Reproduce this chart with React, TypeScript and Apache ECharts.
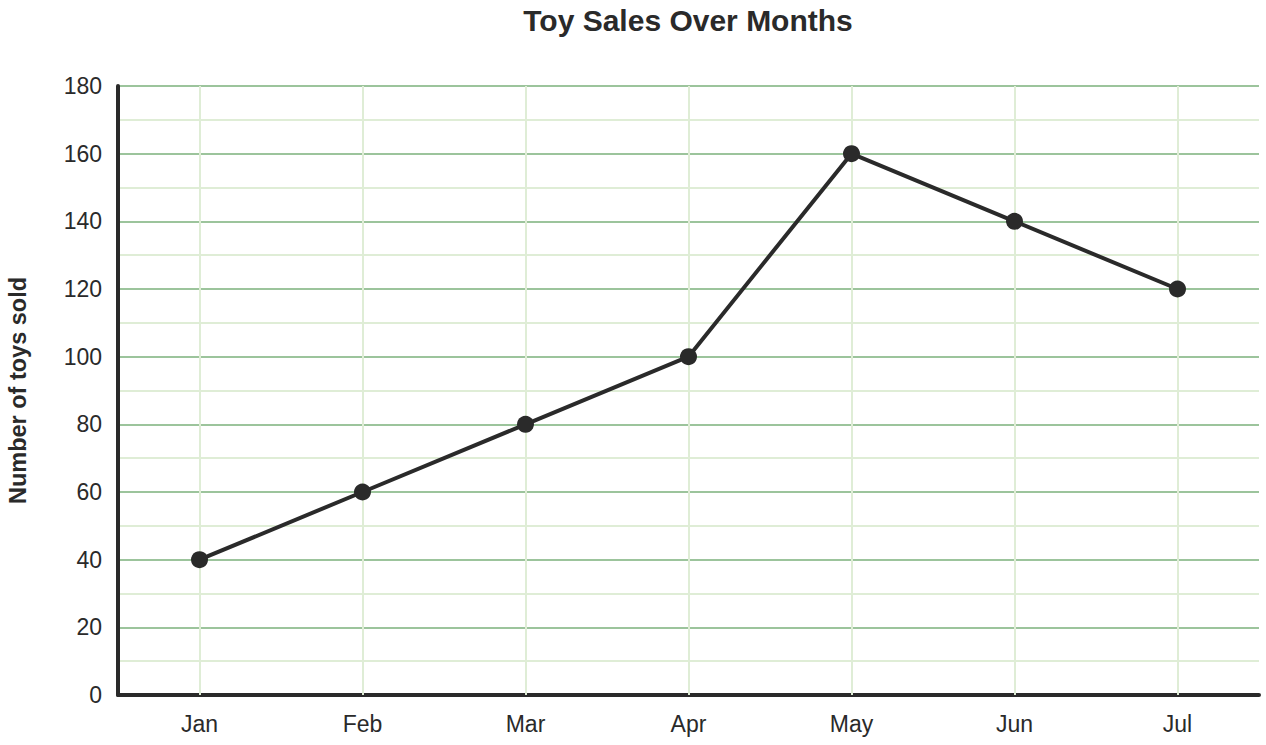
import React, { useEffect, useRef } from "react";
import * as echarts from "echarts";

const months = ["Jan", "Feb", "Mar", "Apr", "May", "Jun", "Jul"];
const toysSold = [40, 60, 80, 100, 160, 140, 120];
const yTicks = { min: 0, max: 180, interval: 20 };

export default function App() {
  const ref = useRef<HTMLDivElement>(null);
  useEffect(() => {
    if (!ref.current) return;
    const chart = echarts.init(ref.current, null, { renderer: "svg" });
    const font = "Liberation Sans, Arial, sans-serif";
    chart.setOption({
      animation: false,
      backgroundColor: "#ffffff",
      title: {
        text: "Toy Sales Over Months",
        left: 683,
        top: 0,
        textAlign: "center",
        textStyle: { fontFamily: font, fontSize: 30, fontWeight: "bold", color: "#2a2a2a" },
      },
      grid: {
        left: 118,
        right: 7,
        top: 86,
        bottom: 50,
        containLabel: false,
        outerBoundsMode: "none",
      },
      xAxis: {
        type: "category",
        data: months,
        boundaryGap: true,
        axisLine: { show: true, lineStyle: { color: "#2a2a2a", width: 4 } },
        axisTick: { show: false },
        splitLine: { show: false },
        axisLabel: { fontFamily: font, fontSize: 23, color: "#2a2a2a", margin: 17 },
      },
      yAxis: {
        type: "value",
        min: yTicks.min,
        max: yTicks.max,
        interval: yTicks.interval,
        name: "Number of toys sold",
        nameLocation: "middle",
        nameGap: 88,
        nameTextStyle: { fontFamily: font, fontSize: 23.5, fontWeight: "bold", color: "#2a2a2a" },
        axisLine: { show: true, lineStyle: { color: "#2a2a2a", width: 4 } },
        axisTick: { show: false },
        axisLabel: { fontFamily: font, fontSize: 23, color: "#2a2a2a", margin: 16 },
        splitLine: { show: true, lineStyle: { color: "#9cc49c", width: 2 } },
        minorTick: { show: false, splitNumber: 2 },
        minorSplitLine: { show: true, lineStyle: { color: "#dfedd6", width: 2 } },
      },
      series: [
        {
          type: "line",
          data: [],
          z: 1,
          silent: true,
          markLine: {
            silent: true,
            z: 1,
            symbol: "none",
            label: { show: false },
            lineStyle: { color: "#dfedd6", width: 2, type: "solid" },
            data: months.map((m) => ({ xAxis: m })),
          },
        },
        {
          type: "line",
          data: toysSold,
          z: 10,
          symbol: "circle",
          symbolSize: 17,
          lineStyle: { color: "#2a2a2a", width: 4 },
          itemStyle: { color: "#2a2a2a" },
        },
      ],
    });
    return () => chart.dispose();
  }, []);
  return (
    <div
      ref={ref}
      style={{ position: "absolute", left: 0, top: 0, width: 1266, height: 745 }}
    />
  );
}
